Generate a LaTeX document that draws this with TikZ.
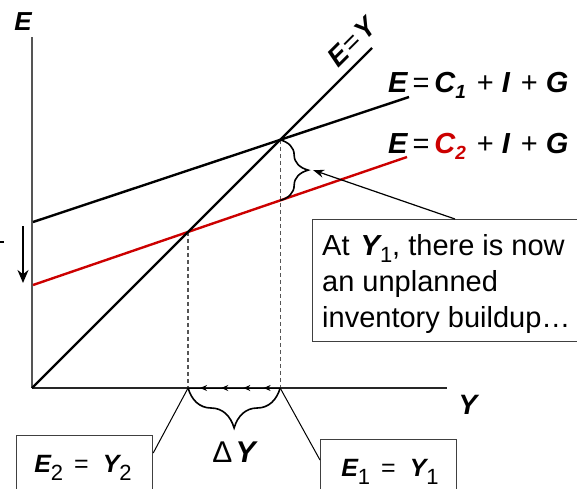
\documentclass[tikz,border=0pt]{standalone}
\usepackage{fontspec}
\setmainfont{Liberation Sans}
\usetikzlibrary{arrows.meta,decorations.pathreplacing,decorations.markings,calc,intersections}

\definecolor{myred}{RGB}{204,0,0}
\definecolor{axisgray}{RGB}{85,85,85}

\newcommand{\bv}[1]{{\bfseries\itshape #1}}
\newcommand{\fsz}[1]{\fontsize{#1}{#1}\selectfont}
\newcommand{\smallarr}{\arrow{Stealth[length=7pt,width=6pt]}}

\begin{document}
\begin{tikzpicture}[x=1pt,y=-1pt,
  thickline/.style={line width=2.4pt},
  dashline/.style={axisgray, line width=1.2pt, dash pattern=on 4pt off 3pt},
  boxst/.style={draw=black!75, line width=1.2pt, fill=white, rectangle, inner sep=0pt},
  leader/.style={line width=1pt},
  lbl/.style={inner sep=0pt}]
\useasboundingbox (0,0) rectangle (577,488);
\clip (0,0) rectangle (577,488);

% axes
\coordinate (O) at (32,388);
\coordinate (Etop) at (32,37);
\coordinate (Yend) at (447,388);

% lines (paths for intersections)
\coordinate (c1a) at (33,222); \coordinate (c1b) at (409,97);
\coordinate (c2a) at (33,285); \coordinate (c2b) at (407,157);
\coordinate (eyb) at (372,48);
\path[name path=c1] (c1a) -- (c1b);
\path[name path=c2] (c2a) -- (c2b);
\path[name path=ey] (O) -- (eyb);
\path[name intersections={of=ey and c1, by=P1}];
\path[name intersections={of=ey and c2, by=P2}];
\coordinate (Q1) at (P1 |- O);
\coordinate (Q2) at (P2 |- O);
\path[name path=v1] (P1) -- (Q1);
\path[name intersections={of=v1 and c2, by=R1}];

% dashed guides
\draw[dashline] (P1) -- (Q1);
\draw[dashline] (P2) -- (Q2);

\draw[axisgray, line width=1.6pt] (O) -- (Etop);
\draw[line width=1.2pt, black!85] (O) -- (Yend);

\draw[thickline] (c1a) -- (c1b);
\draw[thickline, myred] (c2a) -- (c2b);
\draw[thickline] (O) -- (eyb);

% brace between the two lines at Y1
\draw[line width=1.6pt, decorate, decoration={brace, amplitude=28pt}] (P1) -- (R1) coordinate[midway] (Bm);
\coordinate (Btip) at ($(Bm)+(33,0)$);

% brace Delta Y
\draw[line width=1.6pt, decorate, decoration={brace, amplitude=40pt}] (Q1) -- (Q2);

% small arrows along the axis
\draw[line width=1pt, postaction={decorate}, decoration={markings,
  mark=at position 0.18 with {\smallarr},
  mark=at position 0.40 with {\smallarr},
  mark=at position 0.64 with {\smallarr},
  mark=at position 0.87 with {\smallarr}}] (Q1) -- (Q2);

% left arrow and dash
\coordinate (la1) at (23,226); \coordinate (la2) at (23,283);
\draw[line width=2.2pt, -{Stealth[length=13pt,width=11pt]}] (la1) -- (la2);
\coordinate (d1) at (0,242); \coordinate (d2) at (4,242);
\draw[line width=2pt] (d1) -- (d2);

% axis labels
\node[lbl] (Elab) at (23,22) {\fsz{26}\bv{E}};
\node[lbl] (Ylab) at (468,405) {\fsz{28}\bv{Y}};
\node[lbl, rotate=45] (EYlab) at (352,42) {\fsz{27}\bv{E}\hspace{2pt}=\hspace{2pt}\bv{Y}};

% line labels
\node[lbl, anchor=base west] (L1) at (388,92) {\fsz{29}\bv{E}\hspace{5pt}=\hspace{5pt}\bv{C}\raisebox{-6pt}{\fsz{19}\bv{1}}\hspace{11pt}+\hspace{8pt}\bv{I}\hspace{11pt}+\hspace{8pt}\bv{G}};
\node[lbl, anchor=base west] (L2) at (388,153) {\fsz{29}\bv{E}\hspace{5pt}=\hspace{5pt}\textcolor{myred}{\bv{C}\raisebox{-6pt}{\fsz{19}\bv{2}}}\hspace{11pt}+\hspace{8pt}\bv{I}\hspace{11pt}+\hspace{8pt}\bv{G}};

% Delta Y
\node[lbl] (DY) at (234,452) {\fsz{30}Δ\hspace{3pt}\bv{Y}};

% callout box
\node[boxst, minimum width=265pt, minimum height=122pt, anchor=north west] (call) at (312,219) {};
\node[lbl, anchor=base west] (ct1) at (322,255) {\fsz{29}At \hspace{3pt}\bv{Y}\raisebox{-7pt}{\fsz{22}1}, there is now};
\node[lbl, anchor=base west] (ct2) at (322,291) {\fsz{29}an unplanned};
\node[lbl, anchor=base west] (ct3) at (322,327) {\fsz{29}inventory buildup…};
\draw[line width=1.2pt, -{Stealth[length=11pt,width=8pt]}] ($(call.north west)+(143,0)$) -- (Btip);

% bottom boxes
\node[boxst, minimum width=136pt, minimum height=70pt, anchor=north west] (b2) at (16,435) {};
\node[lbl, anchor=base] (t2) at (83,472) {\fsz{25}\bv{E}\raisebox{-8pt}{\fsz{22}2}\hspace{11pt}=\hspace{14pt}\bv{Y}\raisebox{-8pt}{\fsz{22}2}};
\node[boxst, minimum width=136pt, minimum height=70pt, anchor=north west] (b1) at (320,439) {};
\node[lbl, anchor=base] (t1) at (390,476) {\fsz{25}\bv{E}\raisebox{-8pt}{\fsz{22}1}\hspace{11pt}=\hspace{14pt}\bv{Y}\raisebox{-8pt}{\fsz{22}1}};
\draw[leader] ($(b2.north east)+(0,18)$) -- (Q2);
\draw[leader] ($(b1.north west)+(0,21)$) -- (Q1);
\end{tikzpicture}
\end{document}
